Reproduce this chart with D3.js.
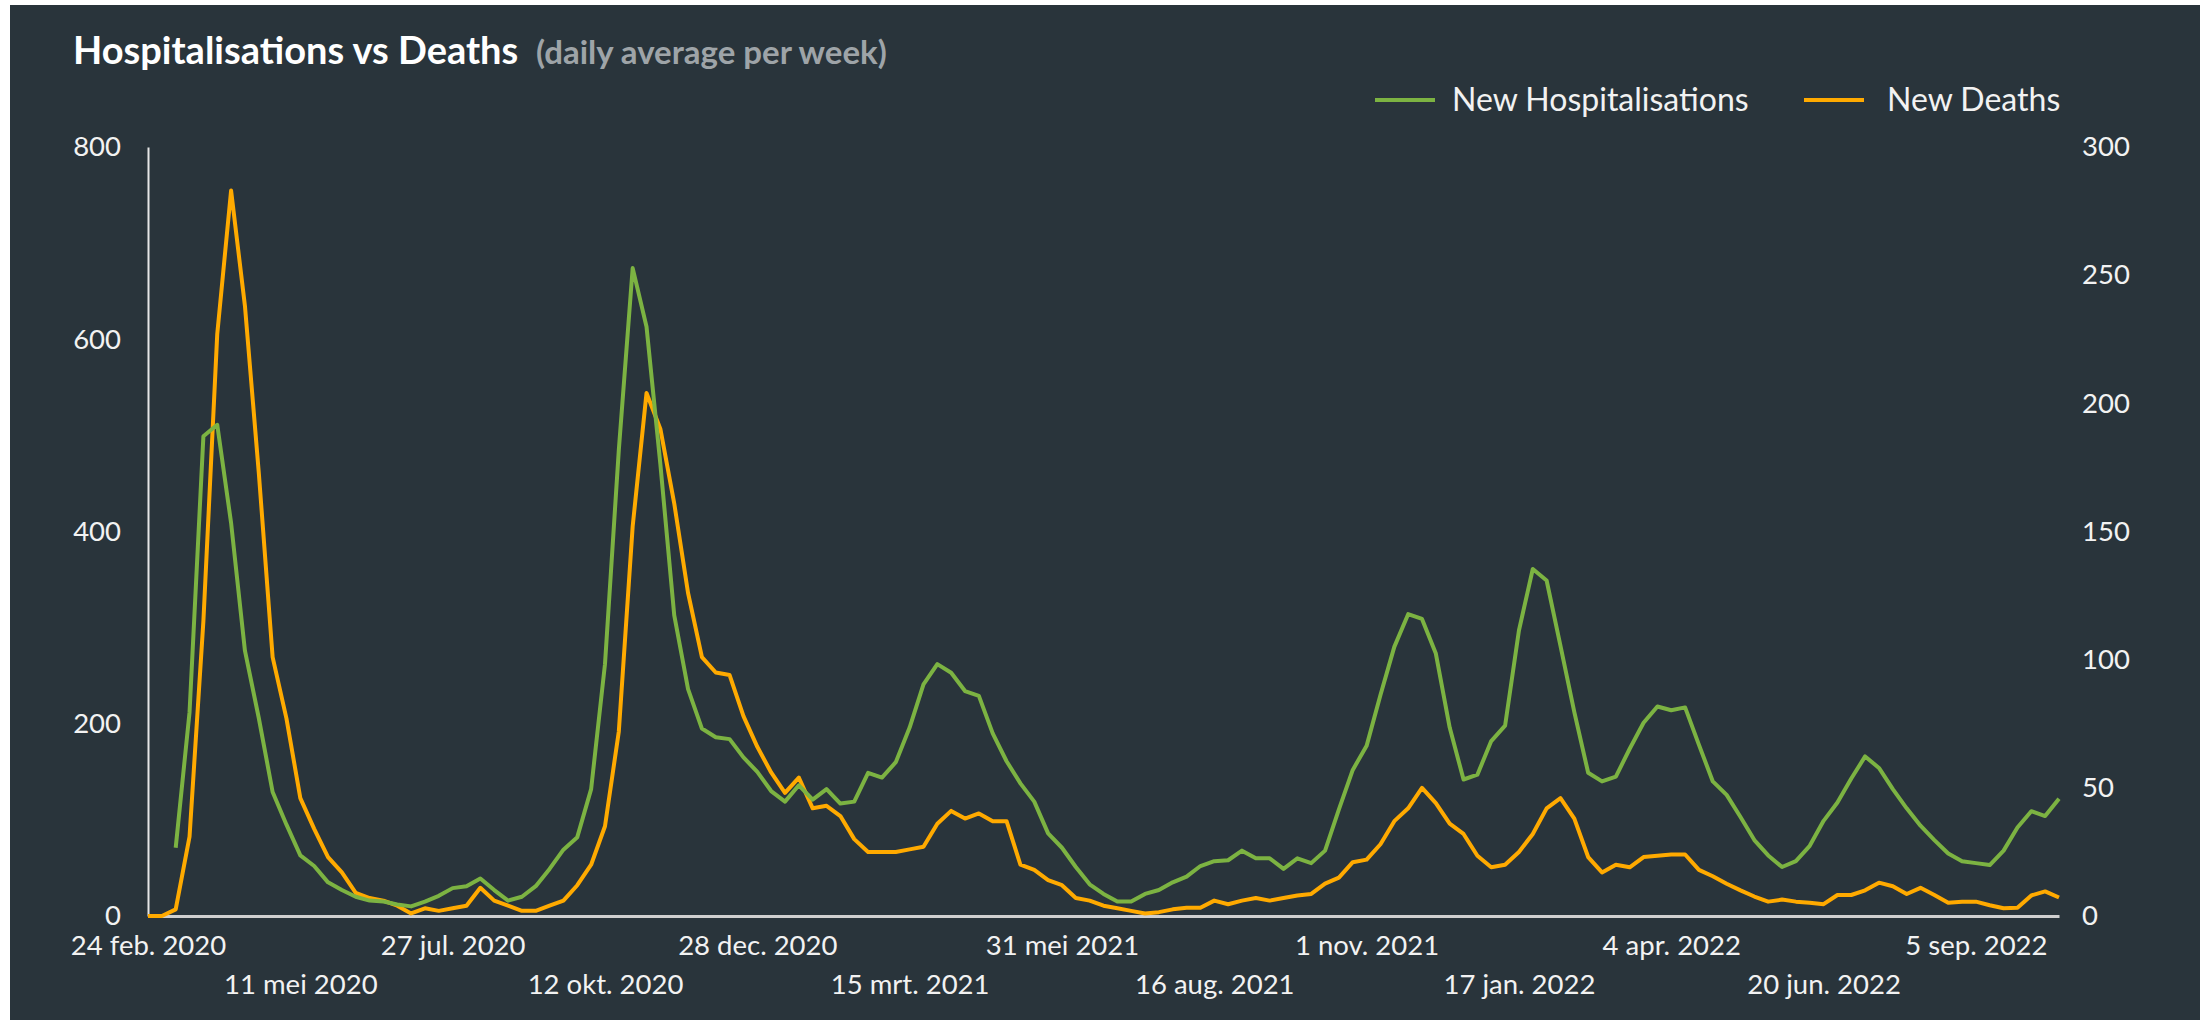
<!DOCTYPE html>
<html>
<head>
<meta charset="utf-8">
<script src="https://cdn.jsdelivr.net/npm/d3@7"></script>
<style>
  body { margin: 0; background: #fff; }
  svg { display: block; font-family: Lato, "Open Sans", sans-serif; }
</style>
</head>
<body>
<svg id="chart" width="2206" height="1020"></svg>
<script>
// weekly values, week 0 = 24 feb. 2020
var hospitalisations = [null, null, 71, 212, 499, 511, 409, 276, 206, 129, 95, 63, 52, 35, 27, 20, 16, 15, 12, 10,
  15, 21, 29, 31, 39, 27, 16, 20, 31, 49, 69, 82, 132, 262, 485, 674, 613, 470, 313, 236,
  195, 186, 184, 165, 150, 130, 119, 136, 121, 132, 117, 119, 149, 144, 160, 196, 241, 262, 253, 234,
  229, 190, 161, 138, 119, 86, 71, 51, 33, 23, 15, 15, 23, 27, 35, 41, 52, 57, 58, 68,
  60, 60, 49, 60, 55, 68, 111, 152, 177, 230, 280, 314, 309, 273, 196, 142, 147, 182, 198, 297,
  361, 349, 281, 212, 149, 140, 145, 174, 201, 218, 214, 217, 178, 140, 126, 103, 79, 63, 51, 57,
  73, 99, 118, 143, 166, 154, 132, 112, 94, 79, 65, 57, 55, 53, 68, 92, 109, 104, 122];

var deaths = [0, 0, 2.6, 31, 115, 227, 283, 238, 173, 101, 77, 46, 34, 23, 17, 9, 7, 6, 4, 1,
  3, 2, 3, 4, 11, 6, 4, 2, 2, 4, 6, 12, 20, 35, 72, 152, 204, 190, 161, 126,
  101, 95, 94, 78, 66, 56, 48, 54, 42, 43, 39, 30, 25, 25, 25, 26, 27, 36, 41, 38,
  40, 37, 37, 20, 18, 14, 12, 7, 6, 4, 3, 2, 1, 1.5, 2.6, 3.2, 3.2, 6, 4.6, 6,
  7, 6, 7, 8, 8.6, 12.6, 15, 21, 22, 28, 37, 42, 50, 44, 36, 32, 23.5, 19, 20, 25,
  32, 42, 46, 38, 23, 17, 20, 19, 23, 23.5, 24, 24, 18, 15.5, 12.6, 10, 7.6, 5.6, 6.4, 5.6,
  5.2, 4.6, 8.2, 8.2, 10, 13, 11.6, 8.6, 11, 8.2, 5.2, 5.6, 5.6, 4.2, 3, 3.2, 8, 9.6, 7.2];

var tickWeeks = [0, 11, 22, 33, 44, 55, 66, 77, 88, 99, 110, 121, 132];
var tickLabels = ["24 feb. 2020", "11 mei 2020", "27 jul. 2020", "12 okt. 2020", "28 dec. 2020",
  "15 mrt. 2021", "31 mei 2021", "16 aug. 2021", "1 nov. 2021", "17 jan. 2022", "4 apr. 2022",
  "20 jun. 2022", "5 sep. 2022"];
var leftTicks = [0, 200, 400, 600, 800];
var rightTicks = [0, 50, 100, 150, 200, 250, 300];

(function() {
  var svg = d3.select("#chart");
  var green = "#7cb342", orange = "#ffaa00";

  svg.append("rect")
      .attr("x", 10).attr("y", 5)
      .attr("width", 2190).attr("height", 1015)
      .attr("fill", "#29343b");

  var mLeft = 148, mRight = 2059, mTop = 147, mBottom = 916;

  var x = d3.scaleLinear().domain([0, hospitalisations.length - 1]).range([mLeft, mRight]);
  var yL = d3.scaleLinear().domain([0, 800]).range([mBottom, mTop]);
  var yR = d3.scaleLinear().domain([0, 300]).range([mBottom, mTop]);

  // title
  svg.append("text")
      .attr("x", 73).attr("y", 64)
      .attr("fill", "#fff")
      .style("font-size", "38px").style("font-weight", 700)
      .text("Hospitalisations vs Deaths");
  svg.append("text")
      .attr("x", 536).attr("y", 64)
      .attr("fill", "#9ea4a8")
      .style("font-size", "33px").style("font-weight", 700)
      .text("(daily average per week)");

  // legend
  var legend = [
    {name: "New Hospitalisations", color: green, x: 1375, tx: 77},
    {name: "New Deaths", color: orange, x: 1804, tx: 83}
  ];
  var lg = svg.selectAll(".leg").data(legend).enter().append("g")
      .attr("transform", function(d) { return "translate(" + d.x + ",100)"; });
  lg.append("line").attr("x1", 0).attr("x2", 60)
      .attr("stroke", function(d) { return d.color; })
      .attr("stroke-width", 4);
  lg.append("text").attr("x", function(d) { return d.tx; }).attr("dy", "0.35em")
      .attr("fill", "#f2f2f2")
      .style("font-size", "32px")
      .text(function(d) { return d.name; });

  // axes
  var gl = svg.append("g")
      .attr("transform", "translate(" + mLeft + ",0)")
      .call(d3.axisLeft(yL).tickValues(leftTicks).tickSize(0).tickSizeOuter(0).tickPadding(27));
  gl.select(".domain").attr("stroke", "#e6e6e6").attr("stroke-width", 2);

  var gr = svg.append("g")
      .attr("transform", "translate(" + mRight + ",0)")
      .call(d3.axisRight(yR).tickValues(rightTicks).tickSize(0).tickPadding(23));
  gr.select(".domain").remove();

  var gb = svg.append("g")
      .attr("transform", "translate(0," + mBottom + ")")
      .call(d3.axisBottom(x).tickValues(tickWeeks).tickSize(0).tickSizeOuter(0).tickPadding(19)
        .tickFormat(function(d, i) { return tickLabels[i]; }));
  gb.select(".domain").attr("stroke", "#cfcfcf").attr("stroke-width", 3);
  gb.selectAll(".tick text").attr("dy", function(d, i) { return i % 2 ? "2.16em" : "0.71em"; });

  svg.selectAll(".tick text")
      .attr("fill", "#f2f2f2")
      .style("font-family", "Lato, sans-serif")
      .style("font-size", "27.5px");

  // lines
  var lineH = d3.line()
      .defined(function(d) { return d != null; })
      .x(function(d, i) { return x(i); })
      .y(function(d) { return yL(d); });
  var lineD = d3.line()
      .x(function(d, i) { return x(i); })
      .y(function(d) { return yR(d); });

  svg.append("path").datum(deaths)
      .attr("fill", "none").attr("stroke", orange)
      .attr("stroke-width", 4).attr("stroke-linejoin", "round")
      .attr("d", lineD);

  svg.append("path").datum(hospitalisations)
      .attr("fill", "none").attr("stroke", green)
      .attr("stroke-width", 4).attr("stroke-linejoin", "round")
      .attr("d", lineH);
})();
</script>
</body>
</html>
